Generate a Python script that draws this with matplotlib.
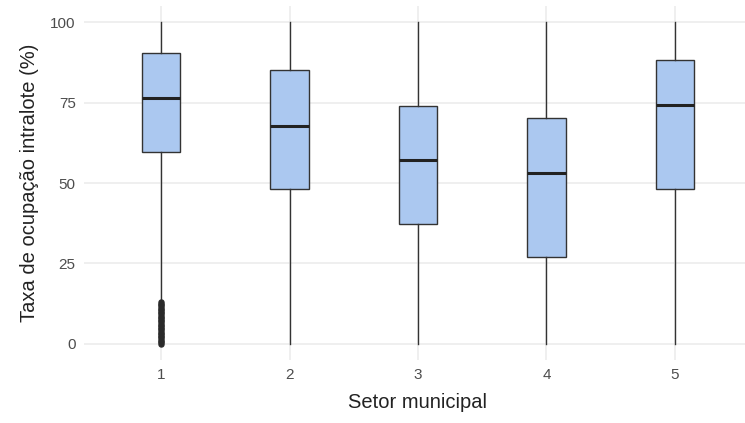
import matplotlib
matplotlib.use("Agg")
import matplotlib.pyplot as plt

plt.rcParams['font.family'] = ['Liberation Sans', 'DejaVu Sans']

sectors = ["1", "2", "3", "4", "5"]
q1 = [59.6, 48.1, 37.3, 27.0, 48.1]
medians = [76.4, 67.7, 57.1, 53.1, 74.2]
q3 = [90.4, 85.1, 73.9, 70.2, 88.2]
whisker_low = [13.7, 0, 0, 0, 0]
whisker_high = [100, 100, 100, 100, 100]
outliers_1 = [0, 0.5, 1, 1.5, 2, 2.5, 3, 3.5, 4, 4.5, 5, 5.5, 6, 6.5, 7, 7.5,
              8, 8.5, 9, 9.5, 10, 10.5, 11, 11.5, 12, 12.5, 13]
outliers = [outliers_1, [], [], [], []]
yticks = [0, 25, 50, 75, 100]

W, H = 745, 423
fig = plt.figure(figsize=(W / 100, H / 100), dpi=100)
ax = fig.add_axes([84 / W, 1 - 360 / H, (752 - 84) / W, (360 - 6) / H])

stats = []
for i in range(len(sectors)):
    stats.append(dict(med=medians[i], q1=q1[i], q3=q3[i],
                      whislo=whisker_low[i], whishi=whisker_high[i],
                      fliers=outliers[i], label=sectors[i]))

positions = list(range(1, len(sectors) + 1))
ax.bxp(stats, positions=positions, widths=0.3, patch_artist=True,
       boxprops=dict(facecolor='#abc8f0', edgecolor='#333333', linewidth=1.0),
       medianprops=dict(color='#222222', linewidth=2.2),
       whiskerprops=dict(color='#333333', linewidth=1.0),
       capprops=dict(linewidth=0),
       flierprops=dict(marker='o', markerfacecolor='#2a2a2a',
                       markeredgecolor='#2a2a2a', markersize=3.6),
       zorder=3)

ax.set_xlim(0.4, 5.6)
ax.set_ylim(-5, 105)
ax.set_yticks(yticks)
ax.set_yticklabels([str(v) for v in yticks])
ax.set_xticks(positions)
ax.set_xticklabels(sectors)

for s in ax.spines.values():
    s.set_visible(False)
ax.grid(True, color='#ebebeb', linewidth=1.1, zorder=0)
ax.set_axisbelow(True)
ax.tick_params(axis='both', length=0, labelsize=11, labelcolor='#4d4d4d', pad=6)

ax.set_xlabel("Setor municipal", fontsize=14.5, color='#222222', labelpad=8)
ax.set_ylabel("Taxa de ocupação intralote (%)", fontsize=14.5, color='#222222', labelpad=8)

fig.savefig("out.png", dpi=100, facecolor='white')
